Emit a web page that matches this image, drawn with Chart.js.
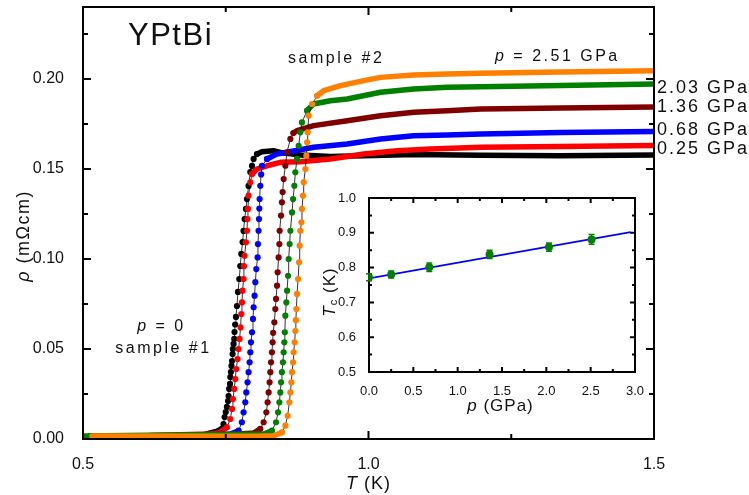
<!DOCTYPE html>
<html>
<head>
<meta charset="utf-8">
<script src="https://cdn.jsdelivr.net/npm/chart.js@4.4.0/dist/chart.umd.min.js"></script>
<style>
  html, body { margin: 0; padding: 0; background: #fff; }
  #wrap { position: relative; width: 749px; height: 495px; }
  #main { position: absolute; left: 0; top: 0; }
  #inset { position: absolute; left: 320px; top: 185px; }
</style>
</head>
<body>
<div id="wrap">
  <canvas id="main" width="749" height="495"></canvas>
  <canvas id="inset" width="325" height="240"></canvas>
</div>
<script>
// ---- Resistivity ρ(T) of YPtBi, points as [T (K), ρ (mΩcm)] ----
const rho_p000 = [[0.512,0.0017],[0.618,0.0017],[0.705,0.0019],[0.735,0.0044],[0.743,0.0056],[0.746,0.0083],[0.748,0.0122],[0.750,0.0150],[0.752,0.0178],[0.754,0.0211],[0.755,0.0239],[0.756,0.0278],[0.7575,0.0306],[0.758,0.0344],[0.759,0.0372],[0.760,0.0406],[0.761,0.0433],[0.762,0.0472],[0.7625,0.0500],[0.7637,0.0528],[0.7649,0.0556],[0.7654,0.0594],[0.7665,0.0636],[0.7679,0.0678],[0.7696,0.0739],[0.7714,0.0817],[0.7737,0.0889],[0.7754,0.0961],[0.7772,0.1028],[0.7795,0.1094],[0.7812,0.1156],[0.7830,0.1222],[0.7854,0.1278],[0.7872,0.1333],[0.7900,0.1406],[0.7930,0.1483],[0.7960,0.1517],[0.7988,0.1556],[0.8047,0.1583],[0.8135,0.1596],[0.8333,0.1602],[0.8456,0.1592],[0.8807,0.1578],[0.9333,0.1570],[0.9917,0.1574],[1.0789,0.1580],[1.1965,0.1576],[1.3368,0.1574],[1.5,0.1578]];
const rho_p025 = [[0.618,0.0019],[0.723,0.0028],[0.740,0.0037],[0.752,0.0065],[0.758,0.0111],[0.761,0.0167],[0.7626,0.0222],[0.7649,0.0278],[0.7667,0.0333],[0.7684,0.0389],[0.7707,0.0444],[0.7725,0.0500],[0.7742,0.0556],[0.7760,0.0620],[0.7772,0.0694],[0.7784,0.0759],[0.7795,0.0824],[0.7812,0.0889],[0.7818,0.0960],[0.7830,0.1018],[0.7854,0.1093],[0.7872,0.1157],[0.7880,0.1222],[0.7889,0.1278],[0.7900,0.1352],[0.7930,0.1426],[0.7960,0.1472],[0.8047,0.1500],[0.8222,0.1518],[0.8456,0.1537],[0.8807,0.1540],[0.9333,0.1556],[0.9917,0.1583],[1.0503,0.1602],[1.1088,0.1611],[1.1965,0.1621],[1.3368,0.1625],[1.5,0.1631]];
const rho_p068 = [[0.705,0.0022],[0.758,0.0028],[0.7725,0.0046],[0.7782,0.0093],[0.7812,0.0148],[0.7842,0.0204],[0.7860,0.0259],[0.7882,0.0315],[0.7900,0.0371],[0.7918,0.0426],[0.7930,0.0482],[0.7942,0.0537],[0.7960,0.0593],[0.7977,0.0667],[0.7988,0.0732],[0.8005,0.0796],[0.8018,0.0871],[0.8035,0.0944],[0.8058,0.1009],[0.8064,0.1083],[0.8075,0.1157],[0.8082,0.1222],[0.8088,0.1280],[0.8093,0.1333],[0.8105,0.1407],[0.8120,0.1470],[0.8135,0.1518],[0.8222,0.1556],[0.8396,0.1583],[0.8572,0.1593],[0.9040,0.1621],[0.9626,0.1639],[1.0211,0.1667],[1.0789,0.1685],[1.1379,0.1689],[1.1965,0.1694],[1.3368,0.1703],[1.5,0.1708]];
const rho_p136 = [[0.740,0.0019],[0.7988,0.0033],[0.8105,0.0056],[0.8163,0.0093],[0.8211,0.0148],[0.8233,0.0204],[0.8251,0.0259],[0.8268,0.0315],[0.8281,0.0371],[0.8293,0.0426],[0.8309,0.0482],[0.8321,0.0537],[0.8330,0.0590],[0.8351,0.0648],[0.8368,0.0722],[0.8381,0.0778],[0.8398,0.0852],[0.8409,0.0926],[0.8426,0.1009],[0.8439,0.1083],[0.8444,0.1157],[0.8468,0.1241],[0.8484,0.1315],[0.8496,0.1372],[0.8514,0.1444],[0.8544,0.1518],[0.8572,0.1593],[0.8632,0.1667],[0.8684,0.1700],[0.8749,0.1713],[0.9040,0.1741],[0.9626,0.1768],[1.0211,0.1796],[1.0795,0.1815],[1.1379,0.1824],[1.1965,0.1833],[1.3368,0.1839],[1.5,0.1844]];
const rho_p203 = [[0.500,0.0017],[0.8163,0.0028],[0.8309,0.0046],[0.8381,0.0093],[0.8416,0.0148],[0.8439,0.0204],[0.8456,0.0259],[0.8468,0.0315],[0.8484,0.0371],[0.8502,0.0426],[0.8514,0.0482],[0.8526,0.0537],[0.8535,0.0593],[0.8544,0.0685],[0.8561,0.0759],[0.8574,0.0824],[0.8591,0.0907],[0.8602,0.1000],[0.8619,0.1083],[0.8632,0.1157],[0.8661,0.1259],[0.8679,0.1333],[0.8702,0.1407],[0.8719,0.1482],[0.8749,0.1556],[0.8777,0.1629],[0.8807,0.1704],[0.8835,0.1759],[0.8923,0.1824],[0.9035,0.1861],[0.9333,0.1879],[0.9626,0.1889],[1.0211,0.1926],[1.0789,0.1944],[1.1379,0.1954],[1.1965,0.1957],[1.3368,0.1964],[1.5,0.1972]];
const rho_p251 = [[0.5158,0.0017],[0.8047,0.0015],[0.8339,0.0018],[0.8486,0.0037],[0.8544,0.0074],[0.8584,0.0129],[0.8614,0.0204],[0.8632,0.0259],[0.8649,0.0315],[0.8661,0.0371],[0.8679,0.0426],[0.8689,0.0482],[0.8707,0.0537],[0.8719,0.0600],[0.8728,0.0660],[0.8737,0.0722],[0.8749,0.0806],[0.8767,0.0889],[0.8784,0.0982],[0.8795,0.1074],[0.8807,0.1157],[0.8825,0.1204],[0.8835,0.1278],[0.8853,0.1352],[0.8865,0.1426],[0.8895,0.1500],[0.8912,0.1574],[0.8925,0.1648],[0.8935,0.1704],[0.8953,0.1796],[0.9012,0.1861],[0.9100,0.1907],[0.9216,0.1935],[0.9509,0.1963],[0.9917,0.1991],[1.0211,0.2009],[1.0789,0.2022],[1.1379,0.2028],[1.1965,0.2032],[1.3368,0.2039],[1.5,0.2046]];

// main axes ticks
const tMajor = [0.5, 1.0, 1.5];
const tMinor = [0.75, 1.25];
const rhoMajor = [0.00, 0.05, 0.10, 0.15, 0.20];
const rhoMinor = [0.025, 0.075, 0.125, 0.175, 0.225];

// ---- inset: Tc versus pressure ----
const pressure = [0, 0.25, 0.68, 1.36, 2.03, 2.51];
const tc       = [0.772, 0.780, 0.801, 0.838, 0.859, 0.881];
const tcErr    = [0.010, 0.010, 0.012, 0.012, 0.012, 0.014];
const fitP     = [0, 2.95];
const fitTc    = [0.769, 0.902];
const pMajor  = [0, 0.5, 1.0, 1.5, 2.0, 2.5, 3.0];
const pMinor  = [0.25, 0.75, 1.25, 1.75, 2.25, 2.75];
const tcMajor = [0.5, 0.6, 0.7, 0.8, 0.9, 1.0];
const tcMinor = [0.55, 0.65, 0.75, 0.85, 0.95];

const FONT = '"Liberation Sans", Arial, sans-serif';
const INK = '#111';

const curves = [
  { data: rho_p000, color: '#000000' },
  { data: rho_p025, color: '#ff0000' },
  { data: rho_p068, color: '#0000ff' },
  { data: rho_p136, color: '#800000' },
  { data: rho_p203, color: '#008000' },
  { data: rho_p251, color: '#ff8000' }
];

// text made of runs (upright / italic / subscript), optionally rotated
function drawRich(ctx, parts, x, y, o) {
  const size = o.size || 16, align = o.align || 'left';
  ctx.save();
  ctx.translate(x, y);
  if (o.rotate) ctx.rotate(o.rotate);
  ctx.fillStyle = o.color || INK;
  ctx.textBaseline = o.baseline || 'alphabetic';
  ctx.textAlign = 'left';
  if ('letterSpacing' in ctx) ctx.letterSpacing = (o.spacing || 0) + 'px';
  const fontOf = p => (p.italic ? 'italic ' : '') + (p.size || size) + 'px ' + FONT;
  let total = 0;
  const widths = parts.map(p => { ctx.font = fontOf(p); const w = ctx.measureText(p.text).width; total += w; return w; });
  let cx = align === 'center' ? -total / 2 : align === 'right' ? -total : 0;
  parts.forEach((p, i) => { ctx.font = fontOf(p); ctx.fillText(p.text, cx, p.dy || 0); cx += widths[i]; });
  ctx.restore();
}

// closed frame and inward major/minor ticks on all four sides
function frameTicks(xMaj, xMin, yMaj, yMin, majLen, minLen, lw) {
  return {
    id: 'frameTicks',
    afterDatasetsDraw(chart) {
      const { ctx, chartArea: a, scales: { x, y } } = chart;
      ctx.save();
      ctx.strokeStyle = '#000';
      ctx.lineWidth = lw;
      ctx.lineCap = 'butt';
      ctx.beginPath();
      const vt = (vals, len) => vals.forEach(v => {
        const px = x.getPixelForValue(v);
        ctx.moveTo(px, a.bottom); ctx.lineTo(px, a.bottom - len);
        ctx.moveTo(px, a.top); ctx.lineTo(px, a.top + len);
      });
      const ht = (vals, len) => vals.forEach(v => {
        const py = y.getPixelForValue(v);
        ctx.moveTo(a.left, py); ctx.lineTo(a.left + len, py);
        ctx.moveTo(a.right, py); ctx.lineTo(a.right - len, py);
      });
      vt(xMaj, majLen); vt(xMin, minLen); ht(yMaj, majLen); ht(yMin, minLen);
      ctx.stroke();
      ctx.strokeRect(a.left, a.top, a.right - a.left, a.bottom - a.top);
      ctx.restore();
    }
  };
}

// a step between two readings is "steep" on screen: sparse sampling through the transition
function steepPx(chart, a, b) {
  if (!a || !b) return false;
  const xs = chart.scales.x, ys = chart.scales.y;
  const dx = Math.abs(xs.getPixelForValue(b.x) - xs.getPixelForValue(a.x));
  const dy = Math.abs(ys.getPixelForValue(b.y) - ys.getPixelForValue(a.y));
  return dy > 1.3 * dx;
}
const steepSeg = c => Math.abs(c.p1.y - c.p0.y) > 1.3 * Math.abs(c.p1.x - c.p0.x);
const markerRadius = c => {
  const d = c.dataset.data, i = c.dataIndex;
  return (steepPx(c.chart, d[i - 1], d[i]) || steepPx(c.chart, d[i], d[i + 1])) ? 3.1 : 0;
};

const mainDatasets = curves.map((c, i) => ({
  data: c.data.map(([x, y]) => ({ x, y })),
  borderColor: c.color,
  backgroundColor: c.color,
  pointBackgroundColor: c.color,
  pointBorderWidth: 0,
  pointRadius: markerRadius,
  borderWidth: 5.5,
  borderCapStyle: 'round',
  borderJoinStyle: 'round',
  tension: 0,
  order: curves.length - i,
  segment: {
    borderWidth: ctx => steepSeg(ctx) ? 1 : 5.5,
    borderColor: ctx => steepSeg(ctx) ? 'rgba(0,0,0,0.8)' : undefined
  }
}));

const mainLabels = {
  id: 'mainLabels',
  afterDraw(chart) {
    const ctx = chart.ctx;
    drawRich(ctx, [{ text: 'YPtBi' }], 128, 45, { size: 31, spacing: 1.5 });
    drawRich(ctx, [{ text: 'sample #2' }], 288, 63, { size: 16, spacing: 2.5 });
    drawRich(ctx, [{ text: 'p', italic: true }, { text: ' = ' + pressure[5].toFixed(2) + ' GPa' }], 495, 61, { size: 16, spacing: 2.5 });
    const baselines = [154, 135, 112, 93];
    [1, 2, 3, 4].forEach((k, j) => {
      drawRich(ctx, [{ text: pressure[k].toFixed(2) + ' GPa' }], 657, baselines[j], { size: 18, spacing: 2 });
    });
    drawRich(ctx, [{ text: 'p', italic: true }, { text: ' = 0' }], 161.5, 331, { size: 16, spacing: 2.5, align: 'center' });
    drawRich(ctx, [{ text: 'sample #1' }], 163.5, 353, { size: 16, spacing: 2.5, align: 'center' });
    drawRich(ctx, [{ text: 'ρ', italic: true }, { text: ' (mΩcm)' }], 28.5, 236, { size: 18, spacing: 1.5, align: 'center', rotate: -Math.PI / 2 });
    drawRich(ctx, [{ text: 'T', italic: true }, { text: ' (K)' }], 368.5, 489, { size: 18, spacing: 1, align: 'center' });
  }
};

new Chart(document.getElementById('main'), {
  type: 'line',
  data: { datasets: mainDatasets },
  options: {
    responsive: false,
    animation: false,
    events: [],
    layout: { padding: { left: 0, right: 95, top: 7, bottom: 0 } },
    plugins: { legend: { display: false }, tooltip: { enabled: false } },
    scales: {
      x: {
        type: 'linear', min: 0.5, max: 1.5,
        afterBuildTicks: s => { s.ticks = tMajor.map(v => ({ value: v })); },
        afterFit: s => { s.height = 56; s.paddingLeft = 0; s.paddingRight = 0; },
        grid: { display: false }, border: { display: false },
        ticks: { font: { family: FONT, size: 16 }, color: INK, padding: 8, maxRotation: 0, autoSkip: false, callback: v => v.toFixed(1) }
      },
      y: {
        type: 'linear', min: 0, max: 0.24,
        afterBuildTicks: s => { s.ticks = rhoMajor.map(v => ({ value: v })); },
        afterFit: s => { s.width = 83; s.paddingTop = 0; s.paddingBottom = 0; },
        grid: { display: false }, border: { display: false },
        ticks: { font: { family: FONT, size: 16 }, color: INK, padding: 11, autoSkip: false, callback: v => v.toFixed(2) }
      }
    }
  },
  plugins: [frameTicks(tMajor, tMinor, rhoMajor, rhoMinor, 8, 5, 2), mainLabels]
});

// ---- inset chart ----
const errorBars = {
  id: 'errorBars',
  afterDatasetsDraw(chart) {
    const { ctx, scales: { x, y } } = chart;
    ctx.save();
    ctx.strokeStyle = '#008000';
    ctx.lineWidth = 1.5;
    ctx.beginPath();
    pressure.forEach((p, i) => {
      const px = x.getPixelForValue(p);
      const hi = y.getPixelForValue(tc[i] + tcErr[i]);
      const lo = y.getPixelForValue(tc[i] - tcErr[i]);
      ctx.moveTo(px, hi); ctx.lineTo(px, lo);
      ctx.moveTo(px - 3, hi); ctx.lineTo(px + 3, hi);
      ctx.moveTo(px - 3, lo); ctx.lineTo(px + 3, lo);
    });
    ctx.stroke();
    ctx.restore();
  }
};

const insetLabels = {
  id: 'insetLabels',
  afterDraw(chart) {
    const ctx = chart.ctx;
    drawRich(ctx, [{ text: 'p', italic: true }, { text: ' (GPa)' }], 180.5, 226, { size: 17, spacing: 1, align: 'center' });
    drawRich(ctx, [{ text: 'T', italic: true }, { text: 'c', size: 11, dy: 2 }, { text: ' (K)' }], 15, 107, { size: 17, spacing: 1, align: 'center', rotate: -Math.PI / 2 });
  }
};

new Chart(document.getElementById('inset'), {
  type: 'line',
  data: {
    datasets: [
      {
        data: pressure.map((p, i) => ({ x: p, y: tc[i] })),
        showLine: false,
        pointRadius: 4,
        pointBackgroundColor: '#008000',
        pointBorderWidth: 0,
        order: 0
      },
      {
        data: fitP.map((p, i) => ({ x: p, y: fitTc[i] })),
        borderColor: '#0000ff',
        borderWidth: 1.6,
        pointRadius: 0,
        tension: 0,
        order: 1
      }
    ]
  },
  options: {
    responsive: false,
    animation: false,
    events: [],
    layout: { padding: { left: 0, right: 10, top: 13, bottom: 0 } },
    plugins: { legend: { display: false }, tooltip: { enabled: false } },
    scales: {
      x: {
        type: 'linear', min: 0, max: 3,
        afterBuildTicks: s => { s.ticks = pMajor.map(v => ({ value: v })); },
        afterFit: s => { s.height = 53; s.paddingLeft = 0; s.paddingRight = 0; },
        grid: { display: false }, border: { display: false },
        ticks: { font: { family: FONT, size: 13 }, color: INK, padding: 4, maxRotation: 0, autoSkip: false, callback: v => v.toFixed(1) }
      },
      y: {
        type: 'linear', min: 0.5, max: 1.0,
        afterBuildTicks: s => { s.ticks = tcMajor.map(v => ({ value: v })); },
        afterFit: s => { s.width = 49; s.paddingTop = 0; s.paddingBottom = 0; },
        grid: { display: false }, border: { display: false },
        ticks: { font: { family: FONT, size: 13 }, color: INK, padding: 5, autoSkip: false, callback: v => v.toFixed(1) }
      }
    }
  },
  plugins: [frameTicks(pMajor, pMinor, tcMajor, tcMinor, 5, 3, 2), errorBars, insetLabels]
});
</script>
</body>
</html>
